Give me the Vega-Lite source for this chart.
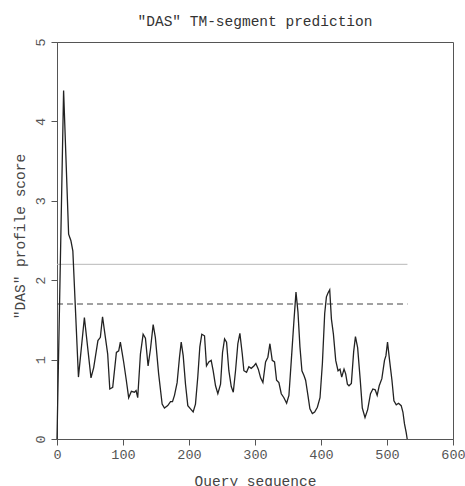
{
  "$schema": "https://vega.github.io/schema/vega-lite/v6.json",
  "autosize": "none",
  "width": 396,
  "height": 397,
  "padding": {"left": 57, "top": 42, "right": 12, "bottom": 47},
  "background": "white",
  "title": {
    "text": "\"DAS\" TM-segment prediction",
    "font": "Liberation Mono",
    "fontSize": 14.5,
    "fontWeight": "normal",
    "color": "#333",
    "anchor": "middle",
    "offset": 8
  },
  "config": {
    "view": {"stroke": "#555", "strokeWidth": 1},
    "axis": {
      "grid": false,
      "labelFont": "Liberation Mono",
      "labelFontSize": 13.5,
      "labelColor": "#555",
      "titleFont": "Liberation Mono",
      "titleFontSize": 14.5,
      "titleFontWeight": "normal",
      "titleColor": "#444",
      "domainColor": "#555",
      "tickColor": "#555",
      "tickSize": 6
    }
  },
  "datasets": {
    "curve": [
      {"seq": 0, "score": 0},
      {"seq": 10, "score": 4.39},
      {"seq": 17.6, "score": 2.58},
      {"seq": 21, "score": 2.5},
      {"seq": 24, "score": 2.37},
      {"seq": 32.5, "score": 0.78},
      {"seq": 41.5, "score": 1.53},
      {"seq": 51.5, "score": 0.77},
      {"seq": 55.6, "score": 0.9},
      {"seq": 62, "score": 1.24},
      {"seq": 65.7, "score": 1.28},
      {"seq": 69, "score": 1.54},
      {"seq": 73.3, "score": 1.28},
      {"seq": 76.8, "score": 1.07},
      {"seq": 80, "score": 0.63},
      {"seq": 84.4, "score": 0.65},
      {"seq": 90, "score": 1.09},
      {"seq": 93.5, "score": 1.11},
      {"seq": 96, "score": 1.22},
      {"seq": 98.6, "score": 1.09},
      {"seq": 101, "score": 0.97},
      {"seq": 105, "score": 0.74},
      {"seq": 108.6, "score": 0.52},
      {"seq": 112.7, "score": 0.6},
      {"seq": 117.3, "score": 0.59},
      {"seq": 119.8, "score": 0.61},
      {"seq": 122.3, "score": 0.52},
      {"seq": 126.4, "score": 1.07},
      {"seq": 130.5, "score": 1.32},
      {"seq": 134, "score": 1.27},
      {"seq": 138, "score": 0.92},
      {"seq": 141.6, "score": 1.13},
      {"seq": 145.7, "score": 1.44},
      {"seq": 149, "score": 1.28},
      {"seq": 154, "score": 0.82},
      {"seq": 159.3, "score": 0.44},
      {"seq": 162.8, "score": 0.39},
      {"seq": 167.8, "score": 0.42},
      {"seq": 172, "score": 0.47},
      {"seq": 175, "score": 0.47},
      {"seq": 178, "score": 0.55},
      {"seq": 182, "score": 0.71},
      {"seq": 185.6, "score": 1.03},
      {"seq": 188.2, "score": 1.22},
      {"seq": 191.2, "score": 1.05},
      {"seq": 194.7, "score": 0.69},
      {"seq": 198.2, "score": 0.42},
      {"seq": 202.3, "score": 0.38},
      {"seq": 206.3, "score": 0.34},
      {"seq": 209.8, "score": 0.44},
      {"seq": 213.3, "score": 0.78},
      {"seq": 216.4, "score": 1.16},
      {"seq": 219.4, "score": 1.32},
      {"seq": 223.5, "score": 1.3},
      {"seq": 226.5, "score": 0.92},
      {"seq": 230, "score": 0.97},
      {"seq": 233.6, "score": 0.99},
      {"seq": 236.6, "score": 0.86},
      {"seq": 240.2, "score": 0.67},
      {"seq": 243.7, "score": 0.57},
      {"seq": 247.8, "score": 0.69},
      {"seq": 250.8, "score": 1.09},
      {"seq": 253.9, "score": 1.26},
      {"seq": 256.9, "score": 1.22},
      {"seq": 260.4, "score": 0.86},
      {"seq": 264, "score": 0.66},
      {"seq": 267.1, "score": 0.59},
      {"seq": 270.5, "score": 0.86},
      {"seq": 274, "score": 1.2},
      {"seq": 277.1, "score": 1.33},
      {"seq": 280.7, "score": 1.07},
      {"seq": 283.2, "score": 0.86},
      {"seq": 287.2, "score": 0.84},
      {"seq": 290.7, "score": 0.91},
      {"seq": 294.3, "score": 0.89},
      {"seq": 298.3, "score": 0.92},
      {"seq": 301.3, "score": 0.95},
      {"seq": 305, "score": 0.88},
      {"seq": 308.5, "score": 0.77},
      {"seq": 312, "score": 0.71},
      {"seq": 316, "score": 0.97},
      {"seq": 319.5, "score": 1.03},
      {"seq": 322.6, "score": 1.2},
      {"seq": 326.1, "score": 0.99},
      {"seq": 329.6, "score": 0.97},
      {"seq": 332.7, "score": 0.74},
      {"seq": 336.2, "score": 0.71},
      {"seq": 339.8, "score": 0.57},
      {"seq": 343.8, "score": 0.52},
      {"seq": 347.9, "score": 0.45},
      {"seq": 351.4, "score": 0.55},
      {"seq": 355, "score": 0.99},
      {"seq": 359, "score": 1.49},
      {"seq": 362.1, "score": 1.85},
      {"seq": 365.1, "score": 1.6},
      {"seq": 368.1, "score": 1.16},
      {"seq": 371.1, "score": 0.86},
      {"seq": 374.2, "score": 0.8},
      {"seq": 376.7, "score": 0.74},
      {"seq": 380.2, "score": 0.55},
      {"seq": 383.2, "score": 0.38},
      {"seq": 386.9, "score": 0.32},
      {"seq": 390.4, "score": 0.34},
      {"seq": 394.5, "score": 0.4},
      {"seq": 398.5, "score": 0.52},
      {"seq": 402.1, "score": 0.95},
      {"seq": 405.6, "score": 1.58},
      {"seq": 408.2, "score": 1.79},
      {"seq": 410.6, "score": 1.84},
      {"seq": 413.2, "score": 1.88},
      {"seq": 415.8, "score": 1.51},
      {"seq": 418.8, "score": 1.32},
      {"seq": 422.3, "score": 0.99},
      {"seq": 425.8, "score": 0.86},
      {"seq": 428.8, "score": 0.88},
      {"seq": 431.4, "score": 0.78},
      {"seq": 434.9, "score": 0.88},
      {"seq": 437.4, "score": 0.82},
      {"seq": 440, "score": 0.69},
      {"seq": 442.4, "score": 0.67},
      {"seq": 446, "score": 0.7},
      {"seq": 449.5, "score": 1.1},
      {"seq": 452.2, "score": 1.29},
      {"seq": 455.5, "score": 1.15},
      {"seq": 459.3, "score": 0.76},
      {"seq": 462.6, "score": 0.39},
      {"seq": 466.7, "score": 0.27},
      {"seq": 470.7, "score": 0.37},
      {"seq": 475, "score": 0.57},
      {"seq": 478.6, "score": 0.63},
      {"seq": 482.1, "score": 0.62},
      {"seq": 485.1, "score": 0.55},
      {"seq": 488.2, "score": 0.67},
      {"seq": 492.2, "score": 0.76},
      {"seq": 496.2, "score": 0.99},
      {"seq": 498.4, "score": 1.05},
      {"seq": 500.8, "score": 1.22},
      {"seq": 503.9, "score": 0.99},
      {"seq": 507.5, "score": 0.74},
      {"seq": 510.5, "score": 0.48},
      {"seq": 514, "score": 0.43},
      {"seq": 517.5, "score": 0.45},
      {"seq": 521.5, "score": 0.42},
      {"seq": 524.1, "score": 0.34},
      {"seq": 526.5, "score": 0.19},
      {"seq": 529.1, "score": 0.08},
      {"seq": 530.6, "score": 0}
    ],
    "cutoffs": [
      {"kind": "loose", "start": 0, "end": 531, "score": 2.2},
      {"kind": "strict", "start": 0, "end": 531, "score": 1.7}
    ]
  },
  "layer": [
    {
      "data": {"name": "cutoffs"},
      "transform": [{"filter": "datum.kind === 'loose'"}],
      "mark": {"type": "rule", "color": "#b8b8b8", "strokeWidth": 1},
      "encoding": {
        "x": {"field": "start", "type": "quantitative", "scale": {"domain": [0, 600]}},
        "x2": {"field": "end"},
        "y": {"field": "score", "type": "quantitative", "scale": {"domain": [0, 5]}}
      }
    },
    {
      "data": {"name": "cutoffs"},
      "transform": [{"filter": "datum.kind === 'strict'"}],
      "mark": {"type": "rule", "color": "#444", "strokeWidth": 1.2, "strokeDash": [6, 4]},
      "encoding": {
        "x": {"field": "start", "type": "quantitative"},
        "x2": {"field": "end"},
        "y": {"field": "score", "type": "quantitative"}
      }
    },
    {
      "data": {"name": "curve"},
      "mark": {"type": "line", "color": "#222", "strokeWidth": 1.3, "interpolate": "linear"},
      "encoding": {
        "x": {
          "field": "seq", "type": "quantitative",
          "scale": {"domain": [0, 600], "nice": false, "zero": false},
          "axis": {"values": [0, 100, 200, 300, 400, 500, 600], "format": "d", "title": "Query sequence",
                   "labelPadding": 2, "labelFlush": false, "titleBaseline": "alphabetic", "titleY": 46, "titleX": 198, "titleAlign": "center"}
        },
        "y": {
          "field": "score", "type": "quantitative",
          "scale": {"domain": [0, 5], "nice": false},
          "axis": {"values": [0, 1, 2, 3, 4, 5], "format": "d", "title": "\"DAS\" profile score",
                   "labelAngle": -90, "labelAlign": "center", "labelBaseline": "bottom", "labelPadding": 4, "labelFlush": false,
                   "titleAngle": -90, "titleX": -37, "titleY": 194, "titleAlign": "center", "titleBaseline": "middle"}
        }
      }
    }
  ]
}
